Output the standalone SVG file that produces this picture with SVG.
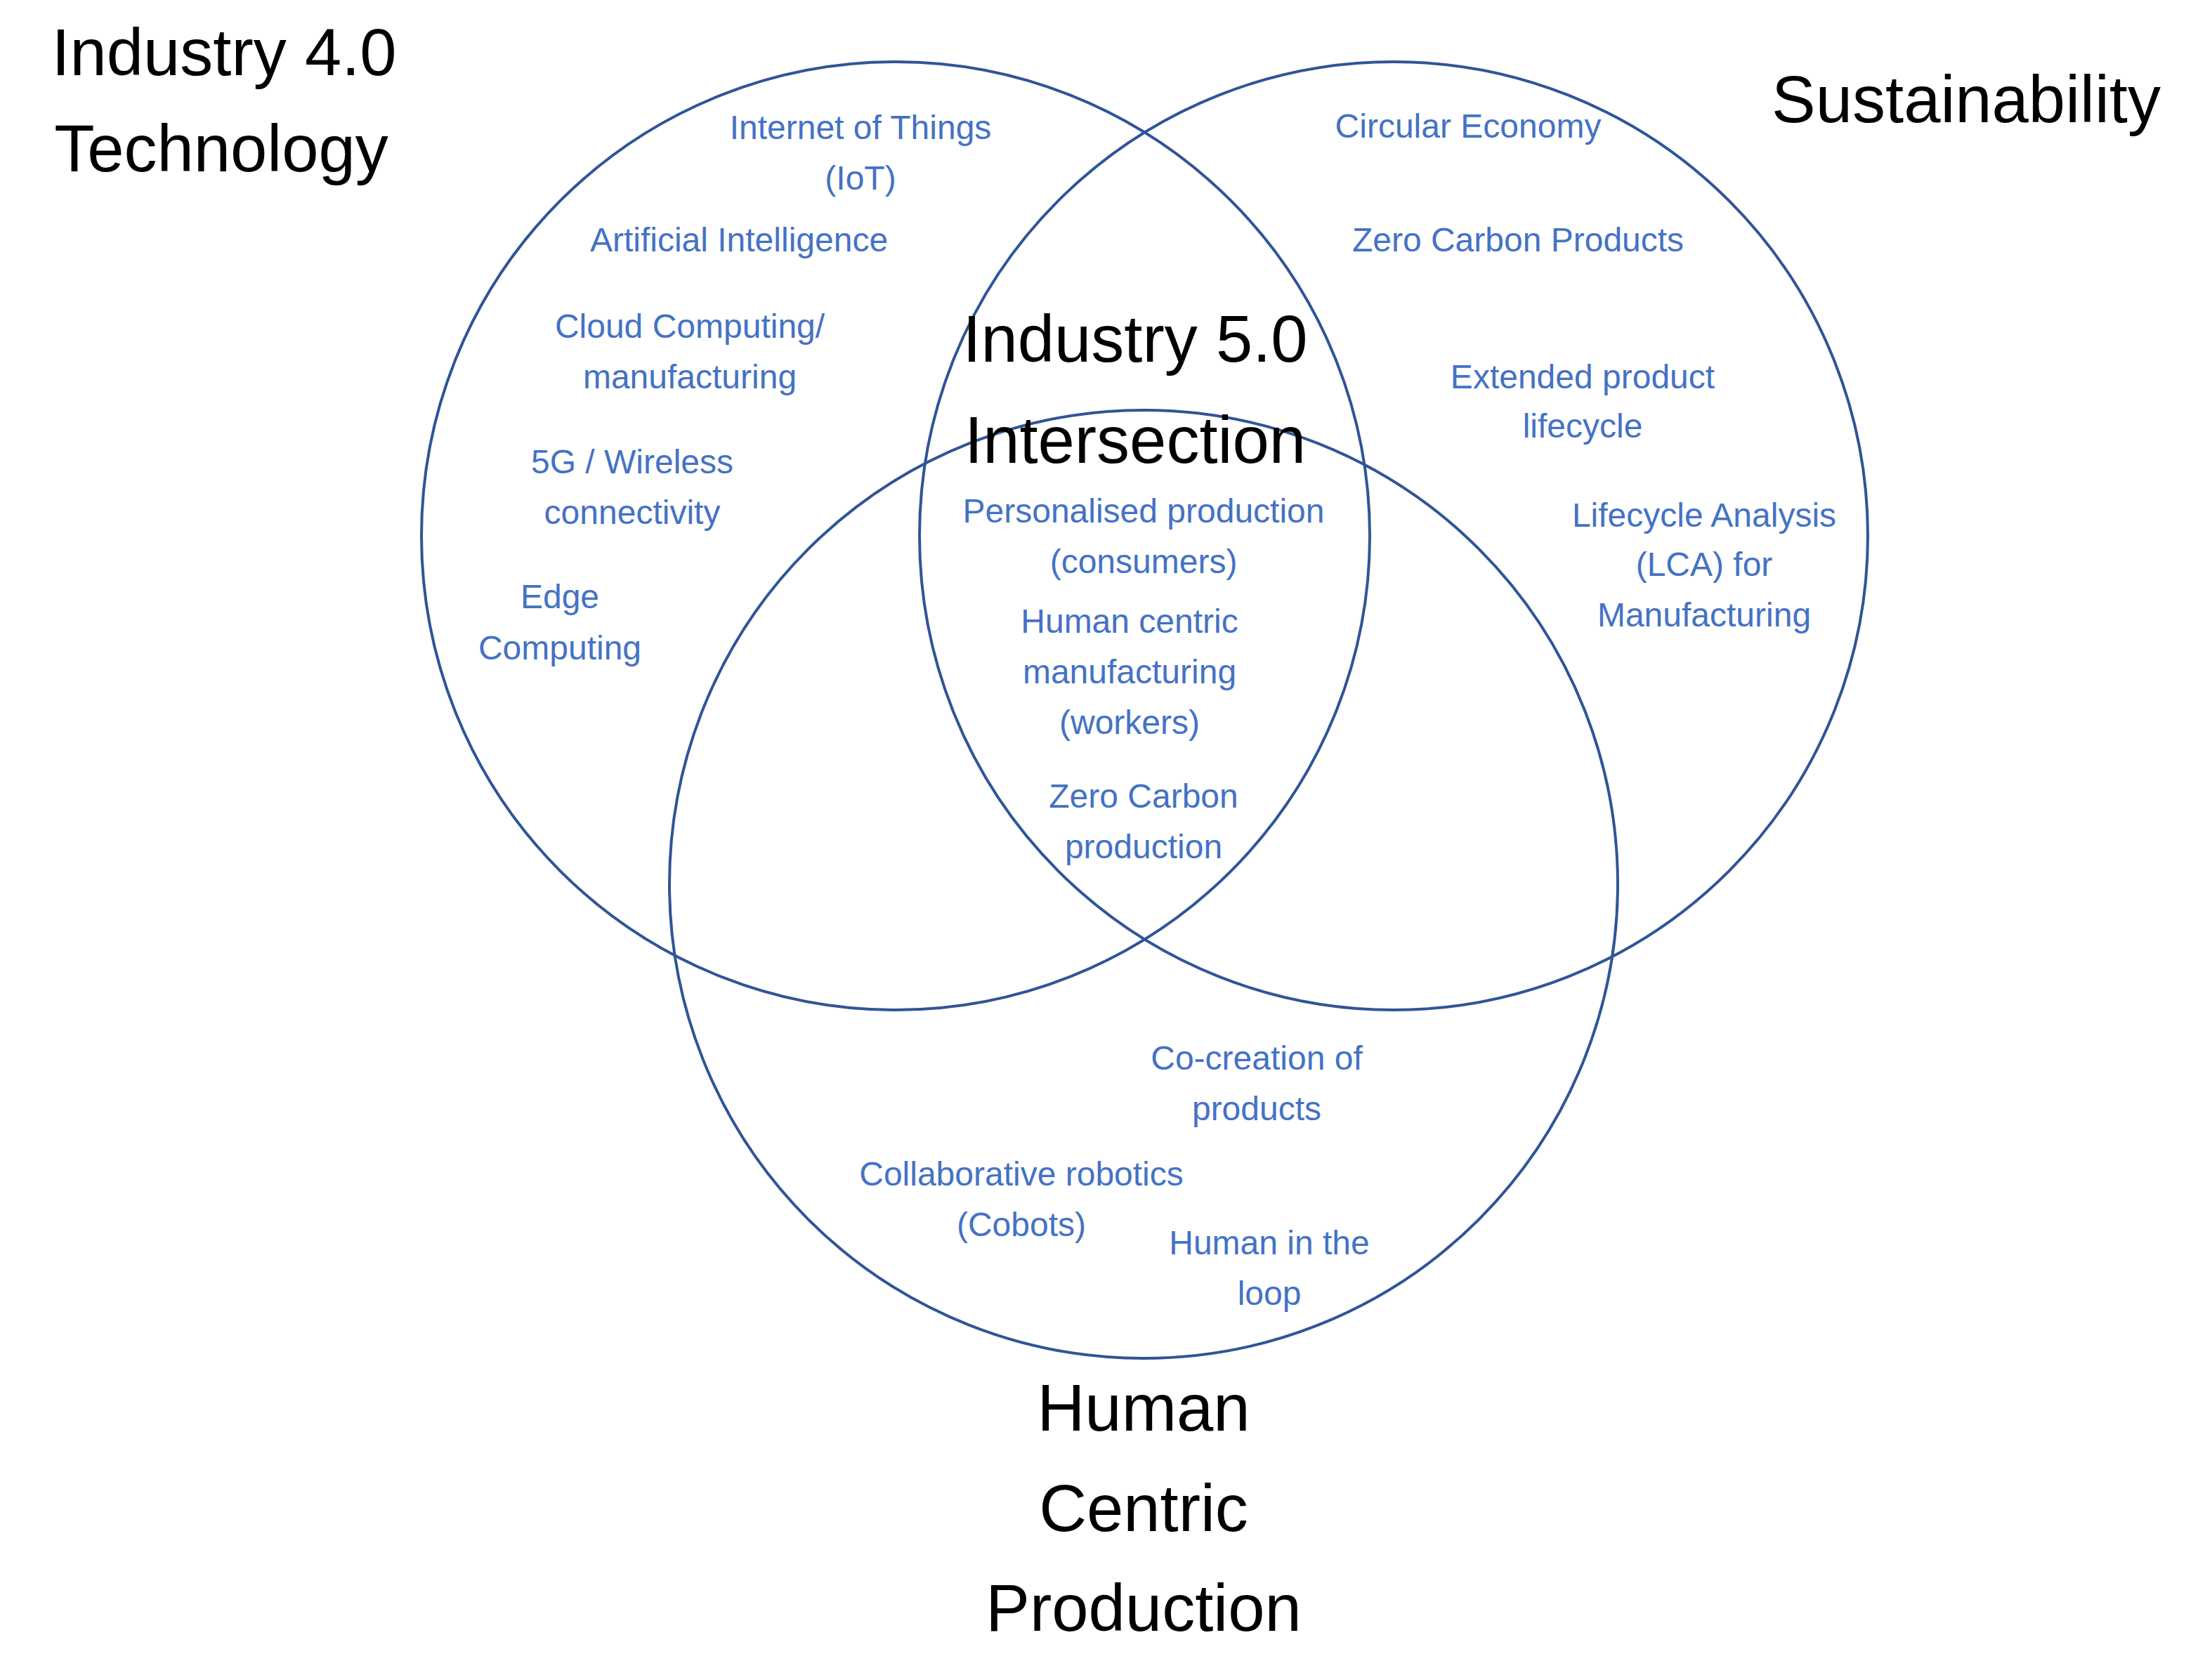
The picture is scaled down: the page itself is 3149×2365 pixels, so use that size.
<svg xmlns="http://www.w3.org/2000/svg" width="3149" height="2365" viewBox="0 0 3149 2365">
<style>
.c{fill:none;stroke:#2F5597;stroke-width:4}
.b{font-family:"Liberation Sans",Arial,sans-serif;font-size:48px;fill:#4472C4;text-anchor:middle;dominant-baseline:central}
.t{font-family:"Liberation Sans",Arial,sans-serif;font-size:94px;fill:#000;text-anchor:middle;dominant-baseline:central}
</style>
<rect width="3149" height="2365" fill="#fff"/>
<g id="circles">
<circle id="c-tech" class="c" cx="1275" cy="763" r="675"/>
<circle id="c-sust" class="c" cx="1984" cy="763" r="675"/>
<circle id="c-human" class="c" cx="1628" cy="1259" r="675"/>
</g>
<g id="labels-tech">
<text class="t" x="319" y="74">Industry 4.0</text><text class="t" x="315" y="211">Technology</text>
<text class="b" x="1225" y="181">Internet of Things</text><text class="b" x="1225" y="253">(IoT)</text>
<text class="b" x="1052" y="341">Artificial Intelligence</text>
<text class="b" x="982" y="464">Cloud Computing/</text><text class="b" x="982" y="536">manufacturing</text>
<text class="b" x="900" y="657">5G / Wireless</text><text class="b" x="900" y="729">connectivity</text>
<text class="b" x="797" y="849">Edge</text><text class="b" x="797" y="922">Computing</text>
</g>
<g id="labels-sust">
<text class="t" x="2799" y="141">Sustainability</text>
<text class="b" x="2090" y="179">Circular Economy</text>
<text class="b" x="2161" y="341">Zero Carbon Products</text>
<text class="b" x="2253" y="536">Extended product</text><text class="b" x="2253" y="606">lifecycle</text>
<text class="b" x="2426" y="733">Lifecycle Analysis</text><text class="b" x="2426" y="803">(LCA) for</text><text class="b" x="2426" y="875">Manufacturing</text>
</g>
<g id="labels-center">
<text class="t" x="1616" y="482">Industry 5.0</text><text class="t" x="1616" y="626">Intersection</text>
<text class="b" x="1628" y="727">Personalised production</text><text class="b" x="1628" y="799">(consumers)</text>
<text class="b" x="1608" y="884">Human centric</text><text class="b" x="1608" y="956">manufacturing</text><text class="b" x="1608" y="1028">(workers)</text>
<text class="b" x="1628" y="1133">Zero Carbon</text><text class="b" x="1628" y="1205">production</text>
</g>
<g id="labels-human">
<text class="b" x="1789" y="1506">Co-creation of</text><text class="b" x="1789" y="1578">products</text>
<text class="b" x="1454" y="1671">Collaborative robotics</text><text class="b" x="1454" y="1743">(Cobots)</text>
<text class="b" x="1807" y="1769">Human in the</text><text class="b" x="1807" y="1841">loop</text>
<text class="t" x="1628" y="2004">Human</text><text class="t" x="1628" y="2147">Centric</text><text class="t" x="1628" y="2289">Production</text>
</g>
</svg>
